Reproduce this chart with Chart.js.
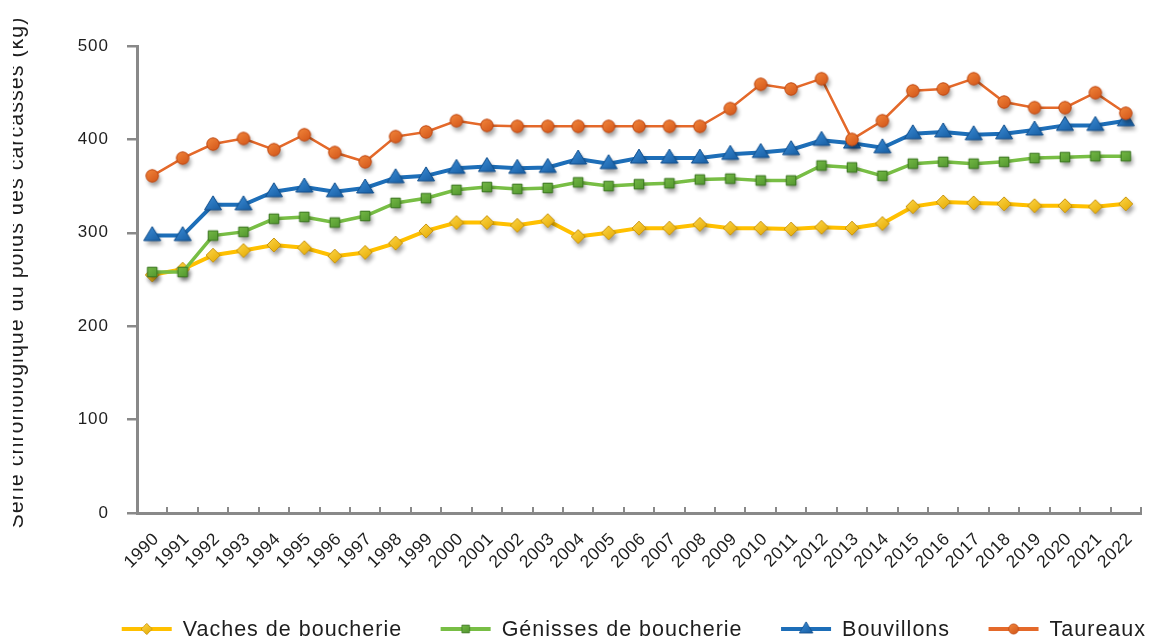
<!DOCTYPE html>
<html><head><meta charset="utf-8">
<script src="https://cdn.jsdelivr.net/npm/chart.js@4.4.0/dist/chart.umd.min.js"></script>
<style>
html,body{margin:0;padding:0;background:#fff;}
#wrap{position:relative;width:1149px;height:640px;overflow:hidden;}
canvas{display:block;clip-path:inset(0 0 0 13px);}
</style></head><body>
<div id="wrap"><canvas id="c" width="1149" height="640"></canvas></div>
<script>
const years = ['1990','1991','1992','1993','1994','1995','1996','1997','1998','1999','2000','2001','2002','2003','2004','2005','2006','2007','2008','2009','2010','2011','2012','2013','2014','2015','2016','2017','2018','2019','2020','2021','2022'];
const vaches = [255,261,276,281,287,284,275,279,289,302,311,311,308,313,296,300,305,305,309,305,305,304,306,305,310,328,333,332,331,329,329,328,331];
const genisses = [258,258,297,301,315,317,311,318,332,337,346,349,347,348,354,350,352,353,357,358,356,356,372,370,361,374,376,374,376,380,381,382,382];
const bouvillons = [297,297,330,330,344,349,344,348,359,361,369,371,369,370,379,374,380,380,380,384,386,389,399,396,391,406,408,405,406,410,415,415,420];
const taureaux = [361,380,395,401,389,405,386,376,403,408,420,415,414,414,414,414,414,414,414,433,459,454,465,400,420,452,454,465,440,434,434,450,428];
const seriesNames = ['Vaches de boucherie','Génisses de boucherie','Bouvillons','Taureaux'];
const yTicks = [0,100,200,300,400,500];
const yTitle = '  Série chronologique du poids des carcasses (kg)';

const FONT = "'Liberation Sans', Arial, sans-serif";
const AXIS = '#898989';
const TEXT = '#1e1e1e';

function shapePath(g, shape, cx, cy) {
  g.beginPath();
  if (shape === 'diamond') {
    const h = 7;
    g.moveTo(cx, cy - h); g.lineTo(cx + h, cy); g.lineTo(cx, cy + h); g.lineTo(cx - h, cy); g.closePath();
  } else if (shape === 'square') {
    const h = 4.8;
    g.rect(cx - h, cy - h, 2 * h, 2 * h);
  } else if (shape === 'triangle') {
    g.moveTo(cx, cy - 9); g.lineTo(cx + 8.5, cy + 5); g.lineTo(cx - 8.5, cy + 5); g.closePath();
  } else {
    g.arc(cx, cy, 6.2, 0, Math.PI * 2);
  }
}
function makeMarker(shape, light, dark, stroke, shadow) {
  const S = 32, c = document.createElement('canvas');
  c.width = S; c.height = S;
  const g = c.getContext('2d');
  const cx = S / 2, cy = S / 2;
  if (shadow) {
    g.save();
    g.shadowColor = 'rgba(0,0,0,0.38)'; g.shadowBlur = 4; g.shadowOffsetX = 2; g.shadowOffsetY = 4;
    shapePath(g, shape, cx, cy); g.fillStyle = dark; g.fill();
    g.restore();
  }
  shapePath(g, shape, cx, cy);
  const gr = g.createLinearGradient(cx - 6, cy - 8, cx + 6, cy + 8);
  gr.addColorStop(0, light); gr.addColorStop(1, dark);
  g.fillStyle = gr; g.fill();
  g.lineWidth = 1; g.strokeStyle = stroke; g.stroke();
  return c;
}

const styles = [
  {color:'#FFC000', width:4, marker: makeMarker('diamond', '#FFD84A', '#E3A800', '#C89410', true), lm: makeMarker('diamond', '#FFD84A', '#E3A800', '#C89410', false)},
  {color:'#78BE45', width:3.5, marker: makeMarker('square', '#7CC04A', '#4A8F2A', '#3A7420', true), lm: makeMarker('square', '#7CC04A', '#4A8F2A', '#3A7420', false)},
  {color:'#1D6EB8', width:4, marker: makeMarker('triangle', '#3A8AD4', '#145A9E', '#124F8C', true), lm: makeMarker('triangle', '#3A8AD4', '#145A9E', '#124F8C', false)},
  {color:'#E4692A', width:2.5, marker: makeMarker('circle', '#F58A3E', '#CF5116', '#C04A14', true), lm: makeMarker('circle', '#F58A3E', '#CF5116', '#C04A14', false)}
];
const values = [vaches, genisses, bouvillons, taureaux];

const datasets = values.map((v, i) => ({
  label: seriesNames[i],
  data: v,
  borderColor: styles[i].color,
  backgroundColor: styles[i].color,
  borderWidth: styles[i].width,
  pointStyle: styles[i].marker,
  pointRadius: 7,
  pointHoverRadius: 7,
  tension: 0,
  order: 4 - i
}));

const spacingPlugin = {
  id: 'spacing',
  beforeUpdate(c) { c.ctx.letterSpacing = '1px'; },
  beforeDraw(c) { c.ctx.letterSpacing = '1px'; }
};

const legendPlugin = {
  id: 'customLegend',
  afterDraw(chart) {
    const ctx = chart.ctx;
    ctx.save();
    ctx.letterSpacing = '1px';
    ctx.font = '21.5px ' + FONT;
    ctx.textBaseline = 'middle';
    ctx.textAlign = 'left';
    const y = 629, symW = 50, gap = 11, itemGap = 38.5, right = 1146;
    const ds = chart.data.datasets;
    const widths = ds.map(d => ctx.measureText(d.label).width);
    const total = widths.reduce((a, w) => a + symW + gap + w, 0) + itemGap * (ds.length - 1);
    let x = right - total;
    ds.forEach((d, i) => {
      ctx.strokeStyle = styles[i].color;
      ctx.lineWidth = 4;
      ctx.beginPath(); ctx.moveTo(x, y); ctx.lineTo(x + symW, y); ctx.stroke();
      const m = styles[i].lm;
      const s = 0.8;
      ctx.drawImage(m, x + symW / 2 - m.width * s / 2, y - m.height * s / 2, m.width * s, m.height * s);
      ctx.fillStyle = TEXT;
      ctx.fillText(d.label, x + symW + gap, y + 1);
      x += symW + gap + widths[i] + itemGap;
    });
    ctx.restore();
  }
};

new Chart(document.getElementById('c'), {
  type: 'line',
  data: { labels: years, datasets },
  options: {
    responsive: false,
    animation: false,
    events: [],
    layout: { autoPadding: false, padding: { top: 46, right: 8, left: 0, bottom: 57 } },
    plugins: { legend: { display: false }, tooltip: { enabled: false } },
    scales: {
      x: {
        type: 'category',
        offset: true,
        grid: { offset: true, drawOnChartArea: false, drawTicks: true, tickLength: -6, color: AXIS, lineWidth: 2 },
        border: { color: AXIS, width: 3 },
        ticks: { autoSkip: false, maxRotation: 45, minRotation: 45, padding: 22, labelOffset: 4, color: TEXT, font: { family: FONT, size: 17.5 } },
        afterFit(s) { s.height = 70; s.paddingRight = 0; s.paddingLeft = 0; },
        afterUpdate(s) {
          if (!s._lsPatched) {
            const orig = s.drawLabels.bind(s);
            s.drawLabels = function (ca) {
              const prev = this.ctx.letterSpacing;
              this.ctx.letterSpacing = '0.5px';
              orig(ca);
              this.ctx.letterSpacing = prev;
            };
            s._lsPatched = true;
          }
        }
      },
      y: {
        min: 0, max: 500,
        afterBuildTicks(s) { s.ticks = yTicks.map(v => ({ value: v })); },
        grid: { drawOnChartArea: false, drawTicks: true, tickLength: 10, color: AXIS, lineWidth: 2.5 },
        border: { color: AXIS, width: 3 },
        ticks: { padding: 18, color: TEXT, font: { family: FONT, size: 17 } },
        title: { display: true, text: yTitle, color: TEXT, font: { family: FONT, size: 21.5 } },
        afterFit(s) { s.width = 137; }
      }
    }
  },
  plugins: [spacingPlugin, legendPlugin]
});
</script>
</body></html>
